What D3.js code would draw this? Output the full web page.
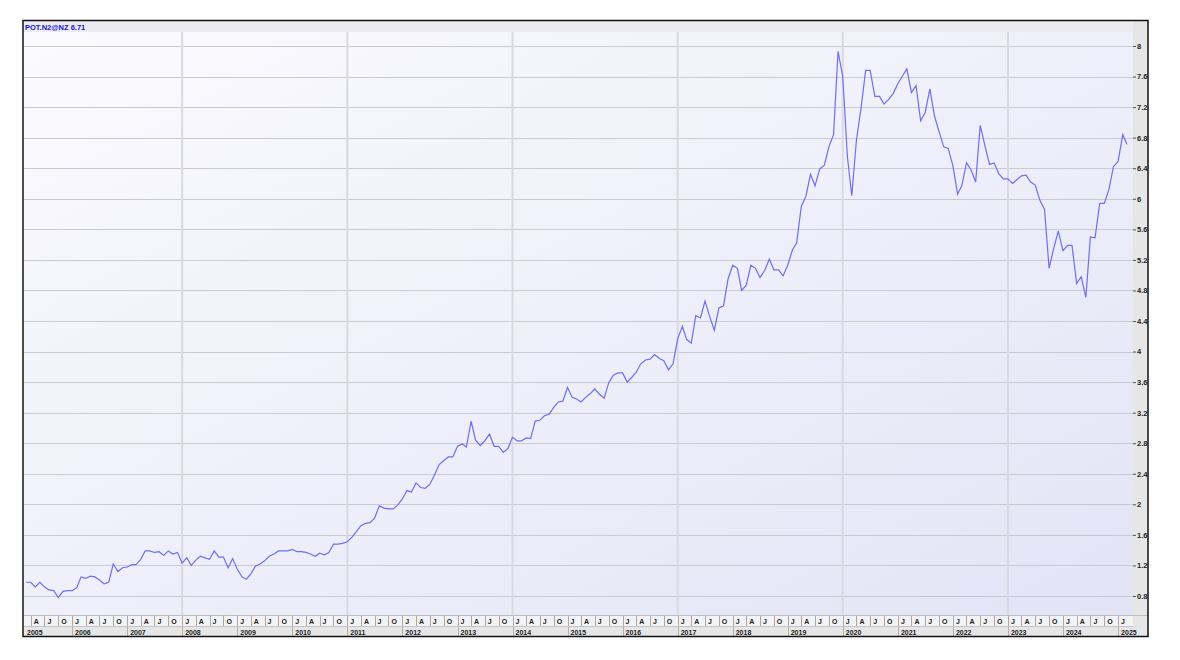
<!DOCTYPE html>
<html><head><meta charset="utf-8">
<script src="https://cdn.jsdelivr.net/npm/d3@7/dist/d3.min.js"></script>
<style>body{margin:0;background:#fff}svg{display:block}</style>
</head><body><svg id="c" width="1180" height="660"></svg>
<script>
// ---- data ----
const seriesName = "POT.N2@NZ";
const lastLabel = "6.71";
const startMonth = "2005-03"; // first monthly observation
const values = [
0.98,0.98,0.92,0.98,0.92,0.88,0.87,0.78,0.86,0.87,
0.87,0.91,1.05,1.03,1.06,1.05,1.01,0.96,0.98,1.22,
1.12,1.17,1.18,1.21,1.21,1.28,1.39,1.39,1.37,1.38,
1.33,1.39,1.35,1.37,1.23,1.30,1.20,1.27,1.32,1.30,
1.28,1.39,1.31,1.31,1.17,1.29,1.15,1.05,1.02,1.09,
1.19,1.22,1.26,1.32,1.35,1.39,1.39,1.39,1.41,1.38,
1.38,1.37,1.35,1.32,1.36,1.34,1.37,1.48,1.48,1.49,
1.51,1.57,1.64,1.72,1.75,1.76,1.82,1.98,1.95,1.94,
1.94,1.99,2.07,2.18,2.16,2.28,2.22,2.21,2.26,2.38,
2.52,2.57,2.62,2.62,2.76,2.79,2.75,3.09,2.84,2.77,
2.83,2.92,2.76,2.76,2.68,2.73,2.88,2.83,2.83,2.87,
2.86,3.09,3.10,3.16,3.18,3.27,3.34,3.35,3.53,3.40,
3.38,3.34,3.40,3.45,3.51,3.44,3.39,3.59,3.69,3.72,
3.72,3.60,3.66,3.73,3.84,3.89,3.90,3.96,3.91,3.88,
3.76,3.84,4.17,4.33,4.16,4.11,4.47,4.44,4.66,4.46,
4.28,4.57,4.60,4.95,5.13,5.09,4.80,4.87,5.13,5.09,
4.97,5.06,5.21,5.07,5.07,4.99,5.13,5.33,5.42,5.90,
6.03,6.32,6.17,6.39,6.44,6.68,6.84,7.93,7.60,6.55,
6.04,6.77,7.18,7.68,7.68,7.34,7.34,7.24,7.30,7.38,
7.51,7.61,7.70,7.39,7.48,7.02,7.13,7.44,7.08,6.88,
6.68,6.66,6.43,6.06,6.17,6.47,6.38,6.22,6.96,6.70,
6.45,6.47,6.33,6.26,6.26,6.20,6.25,6.30,6.31,6.22,
6.18,5.98,5.86,5.09,5.35,5.58,5.32,5.39,5.39,4.89,
4.98,4.71,5.50,5.49,5.94,5.94,6.12,6.42,6.49,6.84,
6.71];
const yTicks = [0.8,1.2,1.6,2,2.4,2.8,3.2,3.6,4,4.4,4.8,5.2,5.6,6,6.4,6.8,7.2,7.6,8];
const yTickLabels = ["0.8","1.2","1.6","2","2.4","2.8","3.2","3.6","4","4.4","4.8","5.2","5.6","6","6.4","6.8","7.2","7.6","8"];
const monthLetters = ["J","A","J","O"]; // quarter starts
const years = [2005,2006,2007,2008,2009,2010,2011,2012,2013,2014,2015,2016,2017,2018,2019,2020,2021,2022,2023,2024,2025];
const gridYears = [2008,2011,2014,2017,2020,2023];

// ---- layout ----
const svg = d3.select("#c");
const L = 24, R = 1133, T = 21, B = 615, AX = 1148, BOT = 636;
const start = d3.timeParse("%Y-%m")(startMonth);
const dates = values.map((v,i)=>d3.timeMonth.offset(start,i));
const data = values.map((v,i)=>({d:dates[i],v}));

const x = d3.scaleTime().domain([dates[0], dates[dates.length-1]]).range([26,1127]);
const y = d3.scaleLinear().domain([0.8,8]).range([596,46]);
const font = "'Liberation Sans', Arial, sans-serif";

const defs = svg.append("defs");
const g = defs.append("linearGradient").attr("id","bg").attr("x1","0").attr("y1","0").attr("x2","1").attr("y2","1");
g.append("stop").attr("offset","0").attr("stop-color","#fbfbfe");
g.append("stop").attr("offset","1").attr("stop-color","#e2e4f6");
defs.append("clipPath").attr("id","pc").append("rect").attr("x",L).attr("y",T).attr("width",R-L).attr("height",B-T);

// right axis strip
svg.append("rect").attr("x",R).attr("y",T).attr("width",AX-R).attr("height",BOT-T+1).attr("fill","#e6e6e6");
// plot background
svg.append("rect").attr("x",L).attr("y",T).attr("width",R-L).attr("height",B-T).attr("fill","url(#bg)");
// header band
svg.append("rect").attr("x",L).attr("y",T).attr("width",R-L).attr("height",11).attr("fill","#ececf0");

// horizontal grid
svg.append("g").selectAll("line").data(yTicks).join("line")
  .attr("x1",L).attr("x2",R).attr("y1",d=>Math.round(y(d))+0.5).attr("y2",d=>Math.round(y(d))+0.5)
  .attr("stroke","#cbcbcf").attr("stroke-width",1);
// vertical grid
svg.append("g").selectAll("line").data(gridYears).join("line")
  .attr("x1",d=>x(new Date(d,0,1))).attr("x2",d=>x(new Date(d,0,1)))
  .attr("y1",T+11).attr("y2",B)
  .attr("stroke","#d9d9e2").attr("stroke-width",2);

// right axis
const ya = svg.append("g").attr("transform",`translate(${R},0)`)
  .call(d3.axisRight(y).tickValues(yTicks).tickFormat((d,i)=>yTickLabels[i]).tickSize(3).tickPadding(1));
ya.select(".domain").remove();
ya.selectAll("line").attr("stroke","#555");
ya.selectAll("text").attr("font-family",font).attr("font-size",7.5).attr("font-weight","bold").attr("fill","#222");

// line
svg.append("path").datum(data).attr("clip-path","url(#pc)")
  .attr("d",d3.line().x(d=>x(d.d)).y(d=>y(d.v)))
  .attr("fill","none").attr("stroke","#6f6ff2").attr("stroke-width",1.2);

// header text
svg.append("text").attr("x",25).attr("y",29.5).attr("font-family",font).attr("font-size",7.5)
  .attr("font-weight","bold").attr("fill","#1515e0").text(seriesName+" "+lastLabel);

// bottom month row
svg.append("rect").attr("x",L).attr("y",B).attr("width",R-L).attr("height",11).attr("fill","#f3f3f6");
svg.append("rect").attr("x",L).attr("y",B+11).attr("width",R-L).attr("height",BOT-B-11).attr("fill","#e6e6e6");
svg.append("line").attr("x1",L).attr("x2",AX).attr("y1",B+0.5).attr("y2",B+0.5).attr("stroke","#bdbdc4");
svg.append("line").attr("x1",L).attr("x2",R).attr("y1",B+11.5).attr("y2",B+11.5).attr("stroke","#c4c4c4");

const quarters = d3.timeMonth.every(3).range(new Date(2005,0,1), new Date(2025,3,1));
const mg = svg.append("g");
quarters.forEach(q=>{
  const x0 = x(q);
  if (x0 < L+3 || x0 > R-4) return;
  mg.append("line").attr("x1",Math.round(x0)+0.5).attr("x2",Math.round(x0)+0.5).attr("y1",B+1).attr("y2",B+11)
    .attr("stroke","#a8a8b0");
  mg.append("text").attr("x",x0+3).attr("y",B+9).attr("font-family",font).attr("font-size",7)
    .attr("font-weight","bold").attr("fill","#222").text(monthLetters[q.getMonth()/3]);
});
const yg = svg.append("g");
years.forEach(yr=>{
  const x0 = x(new Date(yr,0,1));
  const xs = Math.max(x0, L);
  if (x0 >= L) yg.append("line").attr("x1",Math.round(x0)+0.5).attr("x2",Math.round(x0)+0.5)
    .attr("y1",B+12).attr("y2",BOT).attr("stroke","#b0b0b0");
  yg.append("text").attr("x",xs+3).attr("y",B+19.5).attr("font-family",font).attr("font-size",7)
    .attr("font-weight","bold").attr("fill","#222").text(yr);
});

// outer frame
svg.append("rect").attr("x",23).attr("y",20.5).attr("width",AX-23).attr("height",BOT-20).attr("fill","none")
  .attr("stroke","#111").attr("stroke-width",1.5);
</script></body></html>
